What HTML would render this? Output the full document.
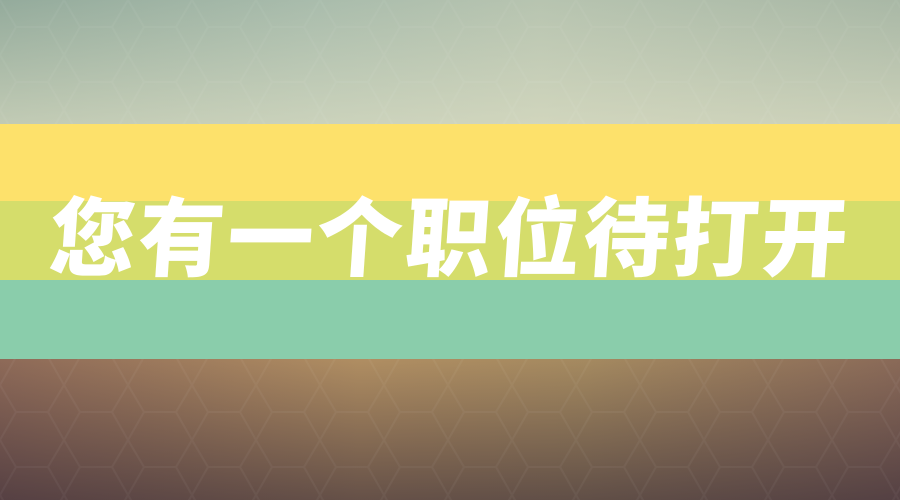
<!DOCTYPE html>
<html><head><meta charset="utf-8"><style>
html,body{margin:0;padding:0}
#root{position:relative;width:900px;height:500px;overflow:hidden;background:#ccc}
.band{position:absolute;left:0;width:900px}
#title{position:absolute;left:0;top:190px;width:900px;text-align:center;color:#fff;font-family:"Liberation Sans","Noto Sans CJK SC",sans-serif;font-weight:900;font-size:86px;line-height:100px;letter-spacing:3px;transform:skewX(-4deg)}
</style></head><body>
<div id="root">
<div class="band" style="top:0;height:124px;background:linear-gradient(180deg,rgba(255,255,255,0) 0%,rgba(230,228,200,0.55) 100%),linear-gradient(90deg,#94ab9c 0%,#a9bcac 35%,#b7c4b0 60%,#a9b8a6 100%)"></div>
<div class="band" style="top:124px;height:77px;background:#fde16b"></div>
<div class="band" style="top:201px;height:79px;background:#d5dd6b"></div>
<div class="band" style="top:280px;height:79px;background:#8acdab"></div>
<div class="band" style="top:359px;height:141px;background:linear-gradient(180deg,rgba(0,0,0,0) 0%,rgba(40,30,50,0.55) 100%),linear-gradient(90deg,#8e6a58 0%,#b08e62 40%,#a58a60 65%,#8a6a58 100%)"></div>
<svg width="900" height="500" style="position:absolute;left:0;top:0">
<defs><pattern id="hx" width="64" height="110" patternUnits="userSpaceOnUse">
<path d="M0 0 L16 27 L48 27 L64 0 M16 27 L0 55 L16 82 L48 82 L64 55 L48 27 M16 82 L0 110 M48 82 L64 110" fill="none" stroke="rgba(255,255,255,0.04)" stroke-width="2"/>
</pattern></defs>
<rect x="0" y="0" width="900" height="124" fill="url(#hx)"/>
<rect x="0" y="359" width="900" height="141" fill="url(#hx)"/>
</svg>
<div id="title">您有一个职位待打开</div>
</div>
</body></html>
